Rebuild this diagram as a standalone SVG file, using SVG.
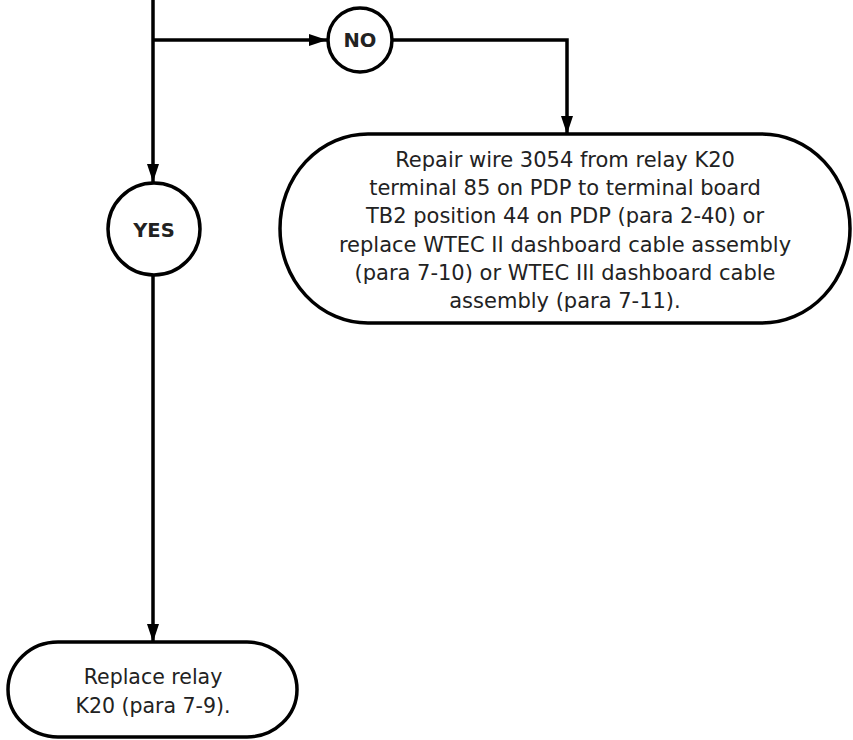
<svg xmlns="http://www.w3.org/2000/svg" width="853" height="740" viewBox="0 0 853 740">
<defs>
<marker id="ah" markerWidth="18" markerHeight="12" refX="18" refY="6" orient="auto" markerUnits="userSpaceOnUse">
<path d="M0,0 L18,6 L0,12 Z" fill="#000"/>
</marker>
<style>
.ln{fill:none;stroke:#000;stroke-width:3.5}
.nd{fill:#fff;stroke:#000;stroke-width:3.5}
.tx{font-family:"DejaVu Sans",Verdana,sans-serif;font-size:21px;fill:#222;text-anchor:middle}
.tx2{font-family:"DejaVu Sans",Verdana,sans-serif;font-size:20.5px;fill:#222;text-anchor:middle}
.lb{font-family:"DejaVu Sans",Verdana,sans-serif;font-size:19.5px;font-weight:bold;fill:#222;text-anchor:middle}
</style>
</defs>
<rect width="853" height="740" fill="#fff"/>
<g id="connectors">
<path class="ln" d="M153,0 V182" marker-end="url(#ah)"/>
<path class="ln" d="M153,40 H327" marker-end="url(#ah)"/>
<path class="ln" d="M393,40 H567 V134" marker-end="url(#ah)"/>
<path class="ln" d="M153,276 V642" marker-end="url(#ah)"/>
</g>
<g id="no">
<circle class="nd" cx="360" cy="40" r="32"/>
<text class="lb" x="360" y="47">NO</text>
</g>
<g id="yes">
<circle class="nd" cx="154" cy="229" r="46"/>
<text class="lb" x="154" y="237">YES</text>
</g>
<g id="repair">
<rect class="nd" x="280" y="134" width="570" height="189" rx="88" ry="94.5"/>
<text class="tx" x="565" y="167">Repair wire 3054 from relay K20</text>
<text class="tx" x="565" y="195">terminal 85 on PDP to terminal board</text>
<text class="tx" x="565" y="223">TB2 position 44 on PDP (para 2-40) or</text>
<text class="tx" x="565" y="252">replace WTEC II dashboard cable assembly</text>
<text class="tx" x="565" y="280">(para 7-10) or WTEC III dashboard cable</text>
<text class="tx" x="565" y="308">assembly (para 7-11).</text>
</g>
<g id="replace">
<rect class="nd" x="8" y="642" width="289" height="95" rx="50" ry="47.5"/>
<text class="tx2" x="153" y="684">Replace relay</text>
<text class="tx2" x="153" y="713">K20 (para 7-9).</text>
</g>
</svg>
